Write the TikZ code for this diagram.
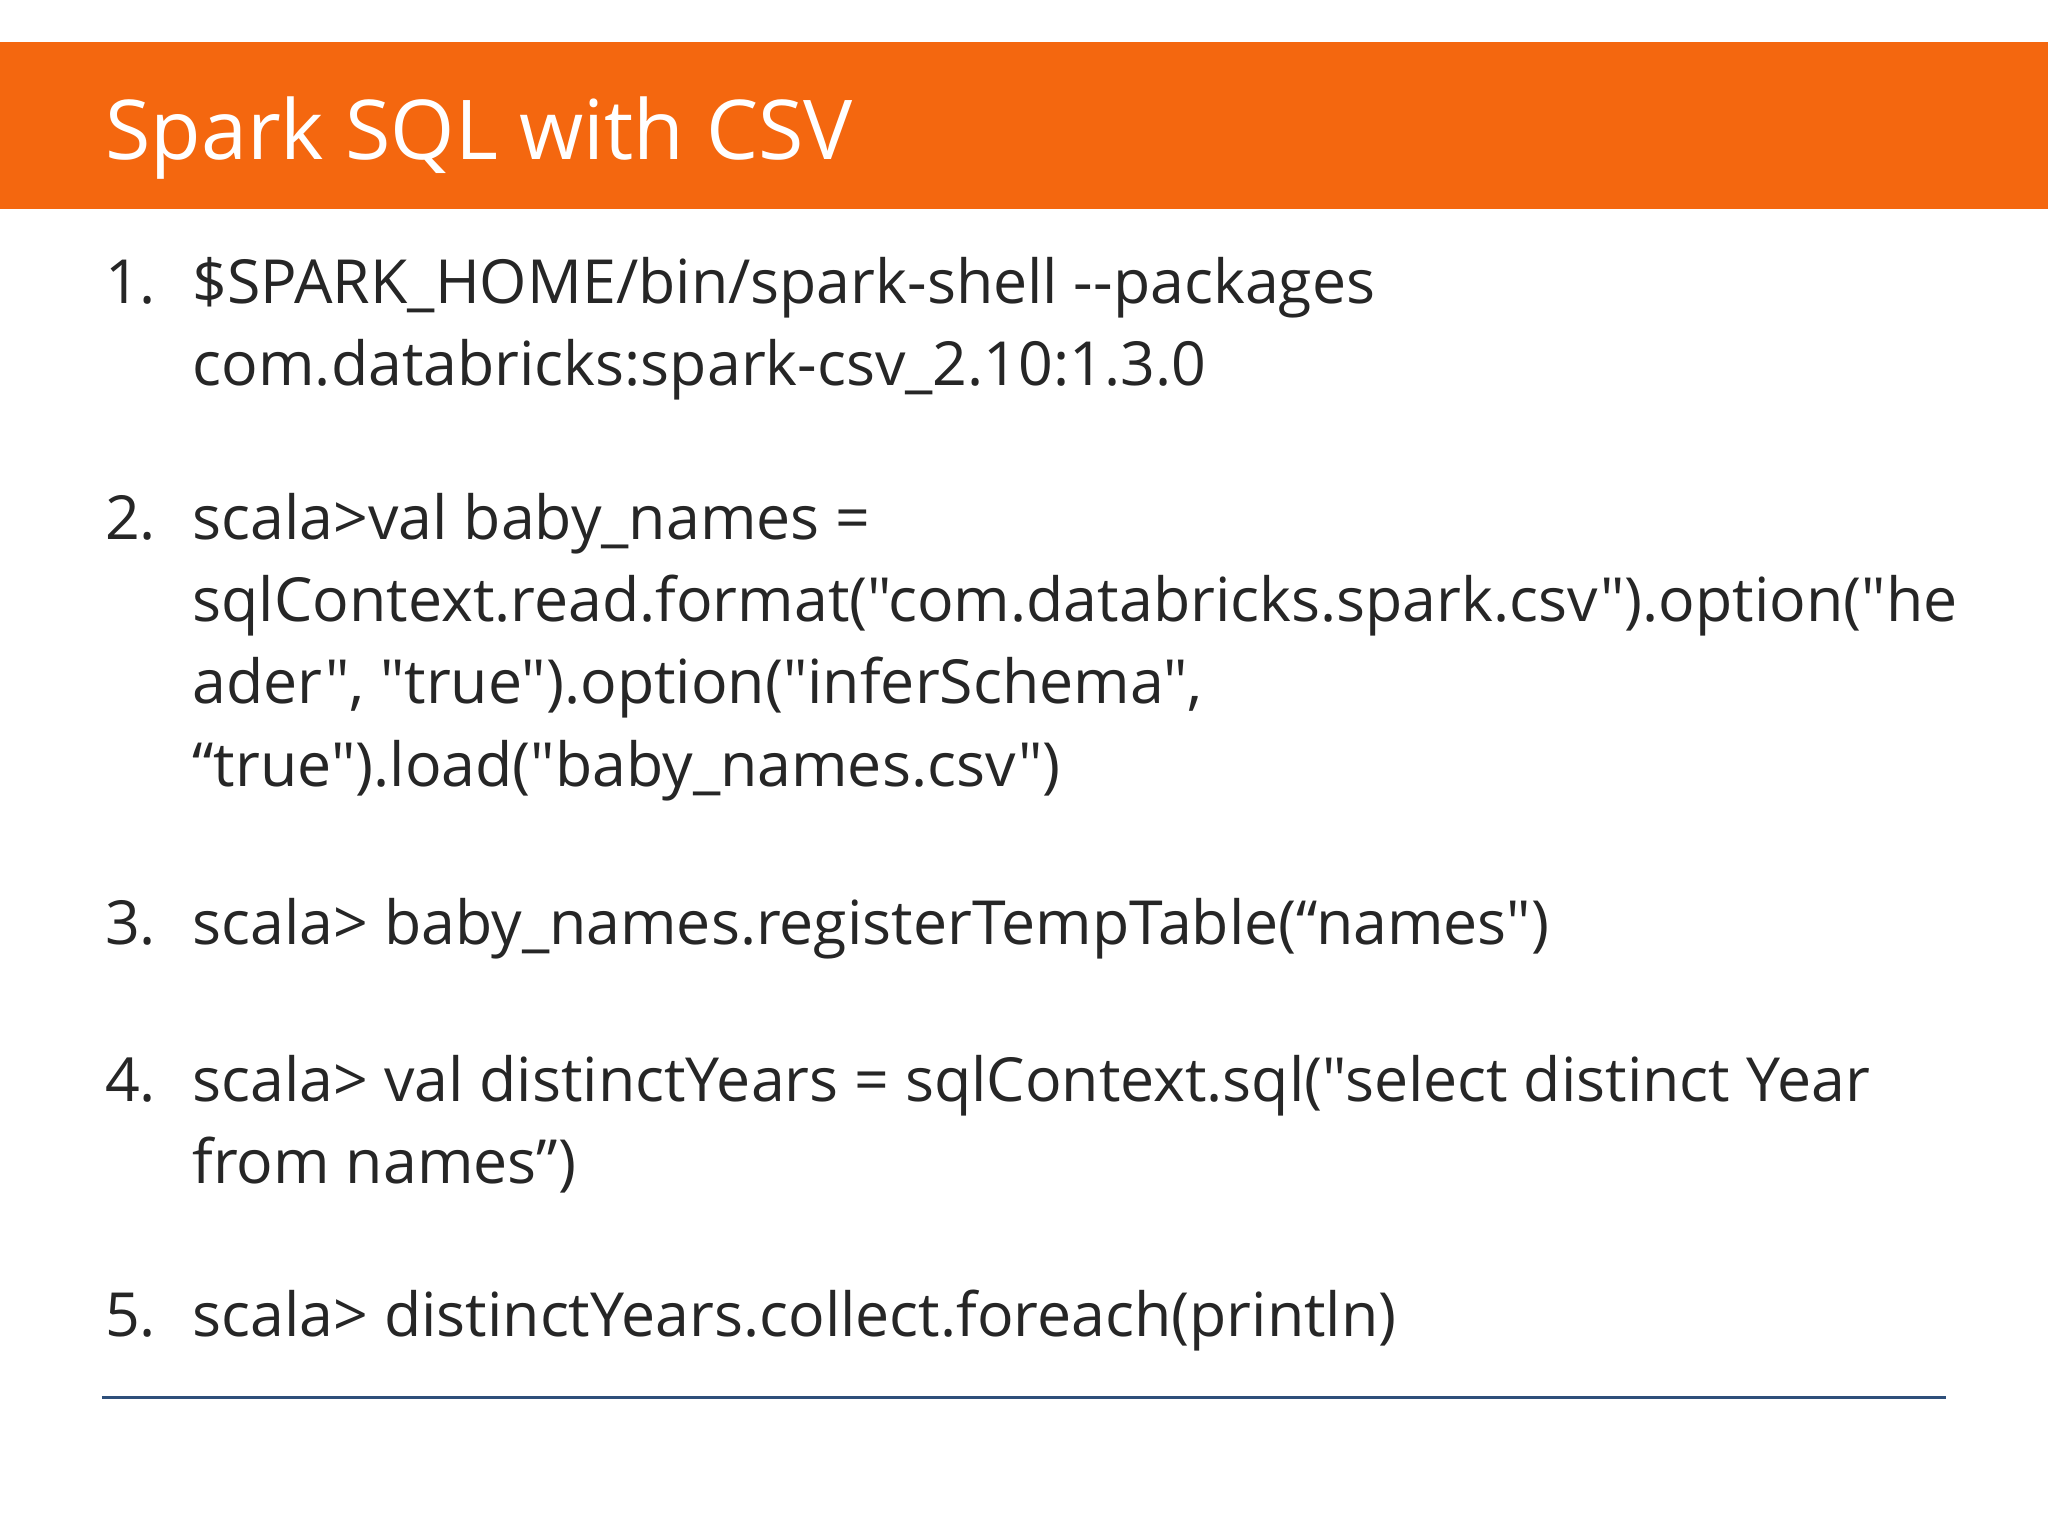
\documentclass[tikz,border=0pt]{standalone}
\usepackage{fontspec}
\setmainfont{Open Sans}[Ligatures=TeXOff]
\definecolor{bar}{HTML}{F4670F}
\definecolor{rule}{HTML}{2E4F7A}
\definecolor{txt}{HTML}{262626}
\begin{document}
\begin{tikzpicture}[x=0.013061cm,y=-0.013061cm,
  ln/.style={anchor=base west,inner sep=0pt,text=txt,font=\fontsize{17.3}{21}\selectfont}]
\useasboundingbox (0,0) rectangle (1568,1176);
\fill[white] (0,0) rectangle (1568,1176);
\fill[bar] (0,32) rectangle (1568,160);
\node[anchor=base west,inner sep=0pt,text=white,font=\fontsize{23.5}{28}\selectfont] (title) at (80,122) {Spark SQL with CSV};
\node[ln] (n1) at (80,232) {1.};
\node[ln] (l1a) at (147,232) {\$SPARK\_HOME/bin/spark-shell --packages};
\node[ln] (l1b) at (147,295) {com.databricks:spark-csv\_2.10:1.3.0};
\node[ln] (n2) at (80,413) {2.};
\node[ln] (l2a) at (147,413) {scala>val baby\_names =};
\node[ln] (l2b) at (147,476) {sqlContext.read.format("com.databricks.spark.csv").option("he};
\node[ln] (l2c) at (147,539) {ader", "true").option("inferSchema",};
\node[ln] (l2d) at (147,602) {“true").load("baby\_names.csv")};
\node[ln] (n3) at (80,723) {3.};
\node[ln] (l3) at (147,723) {scala> baby\_names.registerTempTable(“names")};
\node[ln] (n4) at (80,843) {4.};
\node[ln] (l4a) at (147,843) {scala> val distinctYears = sqlContext.sql("select distinct Year};
\node[ln] (l4b) at (147,906) {from names”)};
\node[ln] (n5) at (80,1023) {5.};
\node[ln] (l5) at (147,1023) {scala> distinctYears.collect.foreach(println)};
\draw[rule,line width=0.8pt] (78,1070) -- (1490,1070);
\end{tikzpicture}
\end{document}
